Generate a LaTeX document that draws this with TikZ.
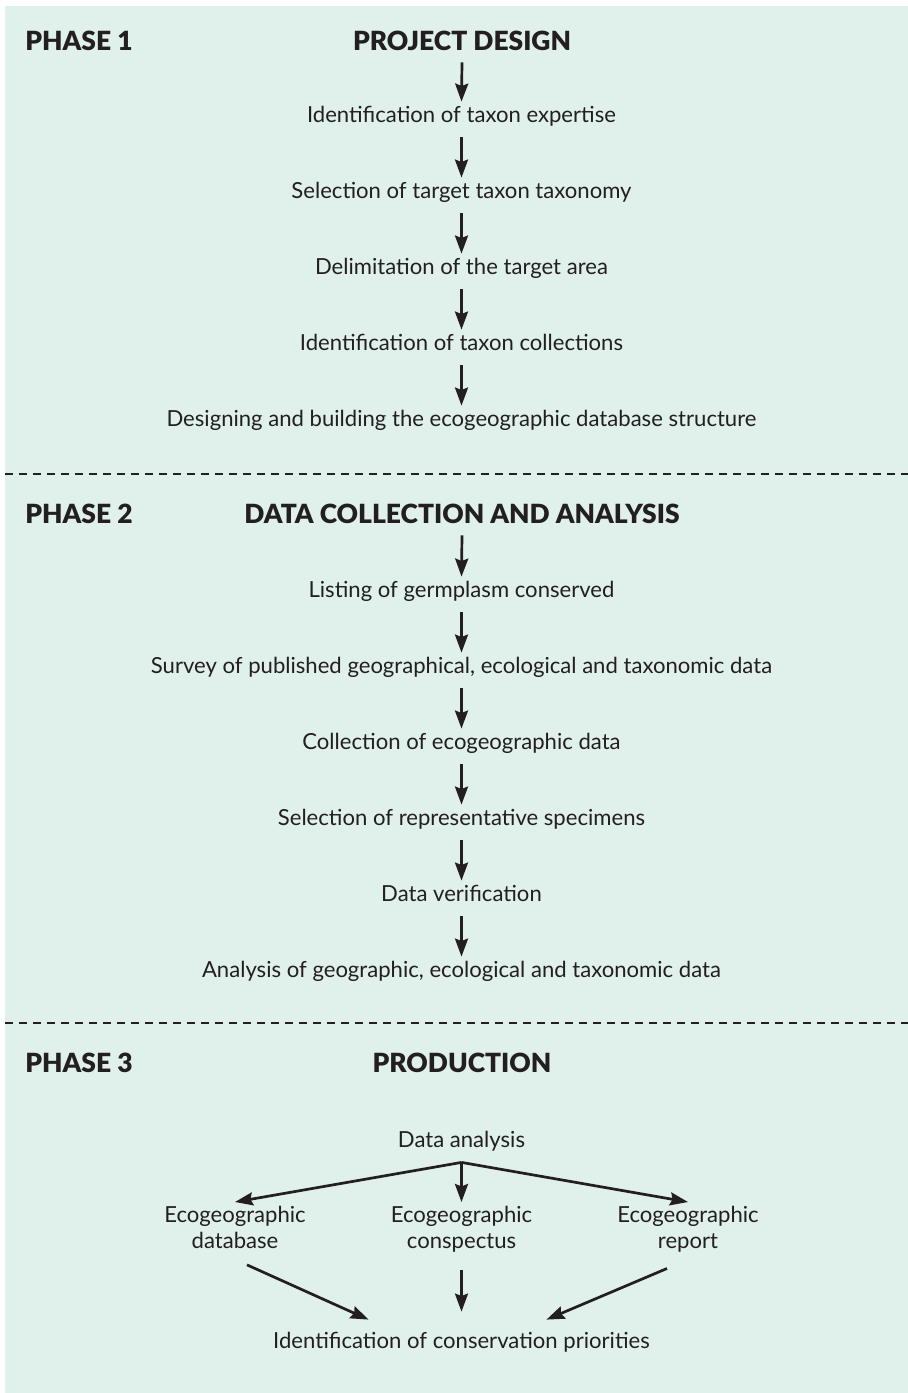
\documentclass[tikz,border=0pt]{standalone}
\usepackage{fontspec}
\setmainfont{Lato}
\IfFontExistsTF{Lato Black}{\newfontfamily\heavyfont{Lato Black}}{\newcommand\heavyfont{\bfseries}}
\usetikzlibrary{arrows.meta,calc}
\definecolor{mint}{RGB}{224,240,235}
\definecolor{ink}{RGB}{35,31,32}
\begin{document}
\begin{tikzpicture}[x = 0.5pt, y = -0.5pt,
		every node/.style = {text = ink, font = \fontsize{11.05}{12.5}\selectfont},
		phase/.style = {anchor = base west, inner sep = 0pt, font = \fontsize{13.2}{14}\selectfont\heavyfont},
		title/.style = {anchor = base, inner ysep = 2pt, text depth = 4pt, font = \fontsize{13.2}{14}\selectfont\heavyfont},
		stage/.style = {anchor = base, inner xsep = 0pt, inner ysep = 2pt, text height = 8pt, text depth = 5.5pt},
		outcome/.style = {anchor = north, align = center, inner xsep = 0pt, inner ysep = 2pt, font = \fontsize{11.05}{12.8}\selectfont},
		flow/.style = {draw = ink, line width = 1.35pt, -{Stealth[length = 9pt, width = 6.5pt, inset = 1.2pt]}},
		divider/.style = {draw = ink, line width = 1.2pt, dash pattern = on 4pt off 3pt}
	]
		\useasboundingbox (0,0) rectangle (908,1393);
		\fill[mint] (5,6) rectangle (908,1393);

		\node[phase] (p1) at (25,50) {PHASE 1};
		\node[title] (t1) at (462,50) {PROJECT DESIGN};
		\node[stage] (s11) at (461.5,122) {Identification of taxon expertise};
		\node[stage] (s12) at (461.5,198) {Selection of target taxon taxonomy};
		\node[stage] (s13) at (461.5,274) {Delimitation of the target area};
		\node[stage] (s14) at (461.5,350) {Identification of taxon collections};
		\node[stage] (s15) at (461.5,426) {Designing and building the ecogeographic database structure};
		\draw[flow] (t1.south) -- (s11.north);
		\draw[flow] (s11.south) -- (s12.north);
		\draw[flow] (s12.south) -- (s13.north);
		\draw[flow] (s13.south) -- (s14.north);
		\draw[flow] (s14.south) -- (s15.north);

		\draw[divider] (5,474) -- (908,474);

		\node[phase] (p2) at (25,523) {PHASE 2};
		\node[title] (t2) at (462,523) {DATA COLLECTION AND ANALYSIS};
		\node[stage] (s21) at (461.5,597) {Listing of germplasm conserved};
		\node[stage] (s22) at (461.5,673) {Survey of published geographical, ecological and taxonomic data};
		\node[stage] (s23) at (461.5,749) {Collection of ecogeographic data};
		\node[stage] (s24) at (461.5,825) {Selection of representative specimens};
		\node[stage] (s25) at (461.5,901) {Data verification};
		\node[stage] (s26) at (461.5,977) {Analysis of geographic, ecological and taxonomic data};
		\draw[flow] (t2.south) -- (s21.north);
		\draw[flow] (s21.south) -- (s22.north);
		\draw[flow] (s22.south) -- (s23.north);
		\draw[flow] (s23.south) -- (s24.north);
		\draw[flow] (s24.south) -- (s25.north);
		\draw[flow] (s25.south) -- (s26.north);

		\draw[divider] (5,1023) -- (908,1023);

		\node[phase] (p3) at (25,1072) {PHASE 3};
		\node[title] (t3) at (462,1072) {PRODUCTION};
		\node[stage] (da) at (461.5,1147) {Data analysis};
		\node[outcome] (db) at (235,1202) {Ecogeographic\\database};
		\node[outcome] (con) at (461.5,1202) {Ecogeographic\\conspectus};
		\node[outcome] (rep) at (688,1202) {Ecogeographic\\report};
		\node[stage] (prio) at (461.5,1348) {Identification of conservation priorities};
		\draw[flow] (da.south) -- (db.north);
		\draw[flow] (da.south) -- (con.north);
		\draw[flow] (da.south) -- (rep.north);
		\draw[flow] ($(db.south)+(12,12)$) -- ($(prio.north)+(-93,-8)$);
		\draw[flow] ($(con.south)+(0,14)$) -- ($(prio.north)+(0,-16)$);
		\draw[flow] ($(rep.south)+(-21,12)$) -- ($(prio.north)+(85,-8)$);
	\end{tikzpicture}
\end{document}
